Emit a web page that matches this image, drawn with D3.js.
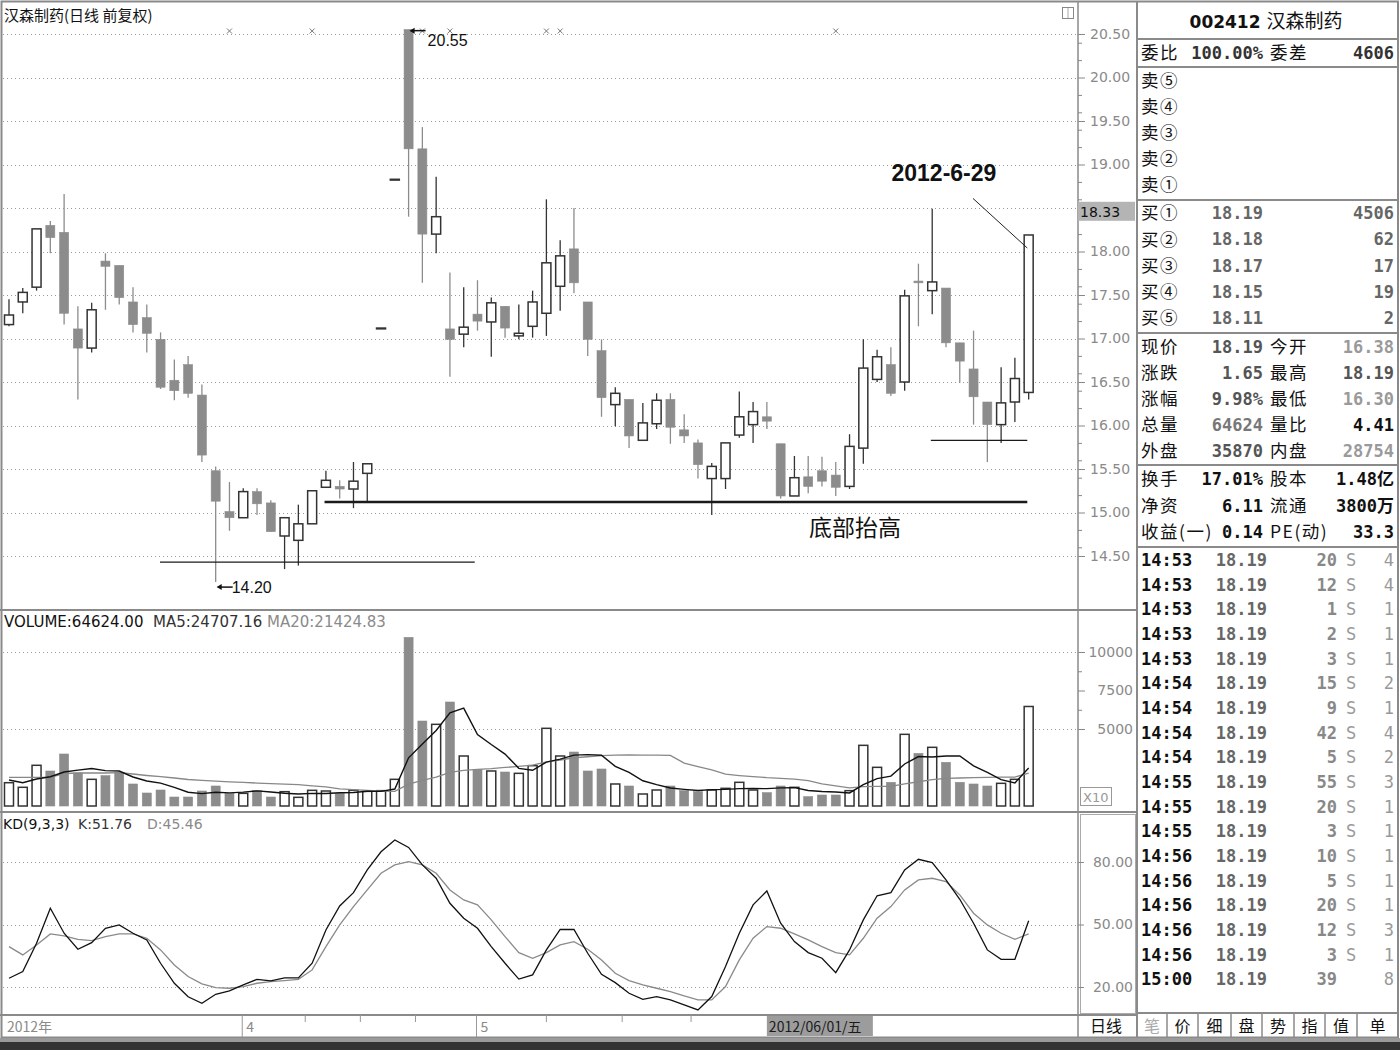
<!DOCTYPE html>
<html>
<head>
<meta charset="utf-8">
<script src="https://cdn.jsdelivr.net/npm/d3@7/dist/d3.min.js"></script>
<style>
html,body{margin:0;padding:0;background:#fff;}
svg{display:block;}
</style>
</head>
<body>
<svg id="chart" width="1400" height="1050"></svg>
<script>
// ---------------- DATA ----------------
const opens  = [17.16,17.42,17.59,18.30,18.22,17.11,16.89,17.89,17.84,17.42,
                17.24,16.99,16.52,16.70,16.35,15.48,15.01,14.94,15.24,15.11,
                14.73,14.68,14.87,15.29,15.30,15.27,15.45,17.12,18.83,20.55,
                19.18,18.20,17.11,17.05,17.28,17.19,17.37,17.03,17.14,17.29,
                17.60,18.03,17.42,16.86,16.24,16.30,15.83,16.02,16.30,15.95,
                15.80,15.39,15.39,15.89,16.01,16.10,15.79,15.19,15.41,15.48,
                15.43,15.30,15.74,16.53,16.70,16.50,17.66,17.55,17.58,16.95,
                16.65,16.27,16.01,16.27,16.38];
const highs  = [17.45,17.58,18.26,18.35,18.66,17.37,17.41,17.98,17.84,17.59,
                17.39,17.07,16.76,16.80,16.47,15.53,15.35,15.28,15.28,15.14,
                14.94,15.09,15.25,15.48,15.37,15.58,15.56,17.12,18.83,20.55,
                19.43,18.86,17.76,17.59,17.67,17.47,17.37,17.39,17.55,18.60,
                18.13,18.50,17.42,16.99,16.44,16.30,16.26,16.37,16.37,16.13,
                15.84,15.57,15.80,16.39,16.27,16.27,15.79,15.65,15.65,15.64,
                15.58,15.90,16.99,16.87,16.90,17.56,17.86,18.49,17.58,16.95,
                17.09,16.27,16.67,16.78,18.19];
const lows   = [17.14,17.29,17.55,17.98,17.16,16.30,16.84,17.33,17.39,17.07,
                16.84,16.42,16.29,16.32,15.58,14.20,14.79,14.94,14.97,14.78,
                14.35,14.39,14.87,15.29,15.16,15.05,15.12,17.12,18.83,18.40,
                17.64,17.98,16.56,16.90,17.09,16.79,17.01,16.99,17.01,17.03,
                17.32,17.52,16.80,16.10,15.99,15.74,15.83,15.96,15.79,15.80,
                15.39,14.97,15.27,15.86,15.80,15.96,15.16,15.19,15.22,15.30,
                15.19,15.27,15.56,16.50,16.34,16.40,17.14,17.28,16.90,16.49,
                16.01,15.58,15.80,16.04,16.30];
const closes = [17.27,17.53,18.26,18.16,17.29,16.89,17.33,17.83,17.47,17.16,
                17.06,16.44,16.40,16.37,15.66,15.13,14.94,15.24,15.10,14.78,
                14.94,14.87,15.25,15.37,15.27,15.36,15.56,17.12,18.83,19.18,
                18.20,18.40,16.99,17.13,17.20,17.41,17.12,17.06,17.42,17.87,
                17.95,17.64,16.99,16.32,16.37,15.88,16.03,16.29,15.98,15.88,
                15.55,15.53,15.80,16.10,16.16,16.05,15.19,15.40,15.30,15.36,
                15.29,15.76,16.66,16.79,16.37,17.49,17.64,17.65,16.95,16.74,
                16.33,16.01,16.26,16.54,18.19];
// volume in units of 10 (axis "X10")
const volumes = [1513,1214,2643,2273,3377,2143,1732,1970,2143,1429,
                 844,1039,584,584,974,1299,822,822,996,584,
                 930,563,1017,974,822,1017,952,996,1732,10952,
                 5519,5303,6753,3247,2381,2273,2208,2121,2619,5044,
                 3247,3506,2273,2403,1429,1299,779,1039,1299,996,
                 930,1039,1147,1537,1039,866,1299,1212,606,714,
                 714,996,3939,2511,1537,4654,3420,3810,2835,1537,
                 1429,1299,1472,1732,6462];
const volMA5 = [1688,1513,1753,1903,2204,2330,2434,2299,2273,1883,
                1624,1485,1208,896,805,896,853,900,983,905,
                831,779,818,814,861,879,956,952,1104,3130,
                4030,4900,6052,6355,4641,3991,3372,2446,2320,2853,
                3048,3307,3338,3295,2572,2182,1637,1390,1169,1082,
                1009,1061,1082,1130,1138,1126,1178,1191,1004,939,
                909,848,1394,1775,1939,2727,3212,3186,3251,3251,
                2606,2182,1714,1494,2471];
const volMA20 = [1864,1864,1864,1864,2110,2143,2143,2143,2162,2078,
                 1981,1903,1818,1720,1660,1610,1570,1530,1490,1449,
                 1420,1388,1306,1241,1114,1057,1018,970,949,1425,
                 1659,1872,2181,2314,2384,2433,2502,2567,2648,2871,
                 2987,3134,3197,3268,3299,3313,3304,3306,3285,2787,
                 2557,2344,2064,1978,1911,1841,1796,1750,1649,1433,
                 1306,1181,1264,1270,1275,1443,1575,1713,1790,1817,
                 1842,1855,1871,1881,2142];
const kLine = [24.2,27.4,41.0,57.8,45.8,38.1,41.3,48.2,49.8,45.8,
               42.6,31.4,21.8,15.3,12.2,16.5,18.1,21.0,23.7,22.9,
               24.4,24.4,31.4,47.4,58.9,65.3,76.2,84.9,90.6,87.0,
               78.6,72.2,60.2,53.0,48.2,39.4,31.4,23.8,25.8,37.8,
               47.6,47.6,36.2,26.1,22.1,17.0,14.1,15.4,13.8,11.4,
               9.0,15.4,29.8,45.8,59.4,66.1,50.6,41.8,36.5,33.8,
               26.9,37.8,52.2,63.8,65.3,76.2,81.3,79.7,71.4,62.1,
               50.6,37.8,33.3,33.3,51.76];
const dLine = [39.4,35.4,40.2,45.5,44.5,42.9,42.3,44.2,45.5,45.5,
               43.4,37.8,30.6,25.0,21.5,19.7,19.4,20.2,21.8,22.6,
               23.1,23.7,28.2,39.4,49.8,58.6,66.6,74.6,78.6,80.2,
               78.6,74.6,66.6,61.8,59.4,52.2,44.2,36.5,33.8,36.5,
               40.2,41.8,38.1,33.0,26.6,23.1,21.0,19.4,17.8,15.7,
               13.8,13.8,20.2,33.0,43.4,49.0,48.2,45.5,42.6,39.4,
               36.5,35.4,43.4,53.0,58.6,66.6,71.4,72.2,70.6,64.2,
               55.4,49.8,45.8,42.9,45.46];

const priceTicks = [14.5,15,15.5,16,16.5,17,17.5,18,18.5,19,19.5,20,20.5];
const volTickLabels = [5000,7500,10000];
const volTickMinor = [6250,8750];
const volGrid = [5000,10000];
const kdTicks = [20,50,80];
const monthLabels = [{i:0,t:"2012年"},{i:17,t:"4"},{i:34,t:"5"}];
const weekTicks = [21.5,25.5,29.5,39,44.5,49.5];
const cursorIndex = 55, cursorLabel = "2012/06/01/五";
const eventMarks = [16,22,30,32,39,40,60];
const markedHigh = {i:29, v:20.55}, markedLow = {i:15, v:14.20};
const cursorPrice = 18.33;
const hiddenPriceLabel = 18.5; // covered by the cursor price box in the terminal
// annotation lines in (index, price) space
const supportLines = [
  {from:10.96, to:33.8, p:14.43, w:1.3},
  {from:22.9,  to:73.9, p:15.12, w:2.6},
  {from:66.9,  to:73.9, p:15.83, w:1.3}
];
const pointer = {a:[69.96,18.61], b:[73.9,18.04]};
const noteDate = {i:67.85, p:18.90, t:"2012-6-29"};
const noteBottom = {i:61.4, p:14.82, t:"底部抬高"};

const title = "汉森制药(日线 前复权)";
const volTitle = ["VOLUME:64624.00","MA5:24707.16","MA20:21424.83"];
const kdTitle = ["KD(9,3,3)","K:51.76","D:45.46"];

const header = ["002412","汉森制药"];
const wbRow = ["委比","100.00%","委差","4606"];
const sellLabels = ["卖⑤","卖④","卖③","卖②","卖①"];
const buyLabels = ["买①","买②","买③","买④","买⑤"];
const buyPrices = ["18.19","18.18","18.17","18.15","18.11"];
const buyVols = ["4506","62","17","19","2"];
const quoteRows = [
  ["现价","18.19","今开","16.38"],
  ["涨跌","1.65","最高","18.19"],
  ["涨幅","9.98%","最低","16.30"],
  ["总量","64624","量比","4.41"],
  ["外盘","35870","内盘","28754"]
];
const statRows = [
  ["换手","17.01%","股本","1.48亿"],
  ["净资","6.11","流通","3800万"],
  ["收益(一)","0.14","PE(动)","33.3"]
];
const tradeTimes = ["14:53","14:53","14:53","14:53","14:53","14:54","14:54","14:54","14:54",
                    "14:55","14:55","14:55","14:56","14:56","14:56","14:56","14:56","15:00"];
const tradePrices = ["18.19","18.19","18.19","18.19","18.19","18.19","18.19","18.19","18.19",
                     "18.19","18.19","18.19","18.19","18.19","18.19","18.19","18.19","18.19"];
const tradeVols = [20,12,1,2,3,15,9,42,5,55,20,3,10,5,20,12,3,39];
const tradeSides = ["S","S","S","S","S","S","S","S","S","S","S","S","S","S","S","S","S",""];
const tradeCounts = [4,4,1,1,1,2,1,4,2,3,1,1,1,1,1,3,1,8];
const tabs = ["笔","价","细","盘","势","指","值","单"];

// ---------------- STYLE / LAYOUT ----------------
const UPC = "#333", DNC = "#8c8c8c", GRID = "#999", FRAME = "#8a8a8a";
const AXF = "DejaVu Sans, sans-serif";
const CJK = "Noto Sans CJK SC, sans-serif";
const MONO = "DejaVu Sans Mono, Noto Sans CJK SC, monospace";
const X0 = 3, XA = 1078, XR = 1137;
const SLOTS = 78;

const svg = d3.select("#chart");
svg.append("rect").attr("width",1400).attr("height",1050).attr("fill","#fff");

const xBand = d3.scaleBand().domain(d3.range(SLOTS)).range([2.1, 1076.9]);
const xc = i => xBand(i) + xBand.bandwidth()/2;
const xi = d3.scaleLinear().domain([0, SLOTS-1]).range([xc(0), xc(SLOTS-1)]);
const yP = d3.scaleLinear().domain([14.5, 20.5]).range([556, 34]);
const yV = d3.scaleLinear().domain([0, 10000]).range([806, 652]);
const yK = d3.scaleLinear().domain([20, 80]).range([987, 862]);

const N = opens.length;
const bars = d3.range(N).map(i => {
  const o = opens[i], c = closes[i];
  const up = c > o || (c === o && (i === 0 || c >= closes[i-1]));
  return {i, o, h:highs[i], l:lows[i], c, up, v:volumes[i]};
});

// ---------------- GRIDS ----------------
const grid = svg.append("g").attr("stroke", GRID).attr("stroke-dasharray","1,3").attr("stroke-width",1);
grid.selectAll("line.pg").data(priceTicks).join("line")
  .attr("x1",X0).attr("x2",XA).attr("y1",d=>Math.round(yP(d))+0.5).attr("y2",d=>Math.round(yP(d))+0.5);
grid.selectAll("line.vg").data(volGrid).join("line")
  .attr("x1",X0).attr("x2",XA).attr("y1",d=>Math.round(yV(d))+0.5).attr("y2",d=>Math.round(yV(d))+0.5);
grid.selectAll("line.kg").data(kdTicks).join("line")
  .attr("x1",X0).attr("x2",XA).attr("y1",d=>Math.round(yK(d))+0.5).attr("y2",d=>Math.round(yK(d))+0.5);

// ---------------- FRAME ----------------
const frame = svg.append("g").attr("stroke",FRAME);
frame.append("rect").attr("x",1.5).attr("y",1.5).attr("width",1396.5).attr("height",1036)
  .attr("fill","none").attr("stroke-width",2);
[610, 812, 1015].forEach(yy => frame.append("line").attr("x1",0).attr("x2",XR).attr("y1",yy).attr("y2",yy).attr("stroke-width",2));
frame.append("line").attr("x1",XA).attr("x2",XA).attr("y1",2).attr("y2",1037).attr("stroke-width",1.5);
frame.append("line").attr("x1",XR).attr("x2",XR).attr("y1",2).attr("y2",1037).attr("stroke-width",2);
svg.append("rect").attr("x",0).attr("y",1038).attr("width",1400).attr("height",4).attr("fill","#9a9a9a");
svg.append("rect").attr("x",0).attr("y",1042).attr("width",1400).attr("height",8).attr("fill","#333");

// small icon top right of price panel
svg.append("rect").attr("x",1062.5).attr("y",7.5).attr("width",11).attr("height",11).attr("fill","#fff").attr("stroke","#888");
svg.append("line").attr("x1",1068).attr("x2",1068).attr("y1",8).attr("y2",18).attr("stroke","#aaa");

// ---------------- TITLES ----------------
svg.append("text").attr("x",4).attr("y",21).attr("font-family",CJK).attr("font-size",15).attr("fill","#111").text(title);
const vt = svg.append("text").attr("y",627).attr("font-family",AXF).attr("font-size",15);
vt.append("tspan").attr("x",4).attr("fill","#111").text(volTitle[0]);
vt.append("tspan").attr("x",153).attr("fill","#333").text(volTitle[1]);
vt.append("tspan").attr("x",267).attr("fill","#8a8a8a").text(volTitle[2]);
const kt = svg.append("text").attr("y",829).attr("font-family",AXF).attr("font-size",14);
kt.append("tspan").attr("x",3).attr("fill","#111").text(kdTitle[0]);
kt.append("tspan").attr("x",78).attr("fill","#333").text(kdTitle[1]);
kt.append("tspan").attr("x",147).attr("fill","#8a8a8a").text(kdTitle[2]);

// ---------------- PRICE AXIS ----------------
const fmt2 = d3.format(".2f");
const pAxis = d3.axisRight(yP).tickValues(priceTicks)
  .tickFormat(d => d === hiddenPriceLabel ? "" : fmt2(d)).tickSize(7).tickPadding(5).tickSizeOuter(0);
const pa = svg.append("g").attr("transform",`translate(${XA},0)`).call(pAxis);
pa.select(".domain").remove();
pa.selectAll("line").attr("stroke","#888");
pa.selectAll("text").attr("font-family",AXF).attr("font-size",14).attr("fill","#8a8a8a");
const pMinor = d3.axisRight(yP).tickValues(yP.ticks(24).filter(t => !priceTicks.includes(t))).tickSize(4).tickFormat("");
const pm = svg.append("g").attr("transform",`translate(${XA},0)`).call(pMinor);
pm.select(".domain").remove(); pm.selectAll("line").attr("stroke","#888");
// cursor price box (sits where the 18.50 label would be, as in the terminal)
const boxTop = yP(cursorPrice) - 21;
svg.append("rect").attr("x",XA).attr("y",boxTop).attr("width",XR-XA-2).attr("height",19).attr("fill","#b4b4b4");
svg.append("text").attr("x",XA+2).attr("y",boxTop+15).attr("font-family",AXF).attr("font-size",14).attr("fill","#111").text(cursorPrice.toFixed(2));

// ---------------- VOLUME AXIS ----------------
const vAxis = d3.axisRight(yV).tickValues(volTickLabels).tickSize(7).tickFormat(d3.format("d")).tickSizeOuter(0);
const va = svg.append("g").attr("transform",`translate(${XA},0)`).call(vAxis);
va.select(".domain").remove();
va.selectAll("line").attr("stroke","#888");
va.selectAll("text").attr("x",55).attr("text-anchor","end").attr("font-family",AXF).attr("font-size",14).attr("fill","#8a8a8a");
const vMinor = d3.axisRight(yV).tickValues(volTickMinor).tickSize(4).tickFormat("");
const vm = svg.append("g").attr("transform",`translate(${XA},0)`).call(vMinor);
vm.select(".domain").remove(); vm.selectAll("line").attr("stroke","#888");
svg.append("rect").attr("x",1080.5).attr("y",787.5).attr("width",31).attr("height",18).attr("fill","#fff").attr("stroke","#999");
svg.append("text").attr("x",1083).attr("y",802).attr("font-family",AXF).attr("font-size",13).attr("fill","#999").text("X10");

// ---------------- KD AXIS ----------------
svg.append("rect").attr("x",1080.5).attr("y",814.5).attr("width",55).attr("height",199).attr("fill","none").attr("stroke","#aaa");
const kAxis = d3.axisRight(yK).tickValues(kdTicks).tickSize(6).tickFormat(fmt2).tickSizeOuter(0);
const ka = svg.append("g").attr("transform",`translate(${XA},0)`).call(kAxis);
ka.select(".domain").remove();
ka.selectAll("line").attr("stroke","#888");
ka.selectAll("text").attr("x",55).attr("text-anchor","end").attr("font-family",AXF).attr("font-size",14).attr("fill","#8a8a8a");

// ---------------- CANDLES ----------------
const cg = svg.append("g");
cg.selectAll("line.wick").data(bars).join("line")
  .attr("x1",d=>xc(d.i)).attr("x2",d=>xc(d.i))
  .attr("y1",d=>yP(d.h)).attr("y2",d=>yP(d.l))
  .attr("stroke",d=>d.up?UPC:DNC).attr("stroke-width",1.3);
cg.selectAll("rect.body").data(bars).join("rect")
  .attr("x",d=>xc(d.i)-4.5).attr("width",9)
  .attr("y",d=>yP(Math.max(d.o,d.c)))
  .attr("height",d=>Math.max(0.8, Math.abs(yP(d.o)-yP(d.c))))
  .attr("fill",d=>d.up?"#fff":DNC)
  .attr("stroke",d=>d.up?UPC:DNC)
  .attr("stroke-width",d=>d.up?1.5:0.6);

// event markers
const em = svg.append("g").attr("stroke","#777").attr("stroke-width",1);
em.selectAll("path").data(eventMarks).join("path")
  .attr("d",i=>{const cx=xc(i), cy=31; return `M${cx-2.5},${cy-2.5}L${cx+2.5},${cy+2.5}M${cx-2.5},${cy+2.5}L${cx+2.5},${cy-2.5}`;});

// extreme labels
function arrow(x, y) {
  svg.append("line").attr("x1",x+1).attr("x2",x+16).attr("y1",y).attr("y2",y).attr("stroke","#111").attr("stroke-width",1.5);
  svg.append("path").attr("d",`M${x},${y}L${x+5},${y-3}L${x+5},${y+3}Z`).attr("fill","#111");
}
arrow(xc(markedHigh.i)+1, yP(markedHigh.v)+1);
svg.append("text").attr("x",xc(markedHigh.i)+19).attr("y",yP(markedHigh.v)+16)
  .attr("font-family","Liberation Sans, Arial, sans-serif").attr("font-size",16).attr("fill","#111").text(markedHigh.v.toFixed(2));
arrow(xc(markedLow.i)+1, yP(markedLow.v)+5);
svg.append("text").attr("x",xc(markedLow.i)+16).attr("y",yP(markedLow.v)+11)
  .attr("font-family","Liberation Sans, Arial, sans-serif").attr("font-size",16).attr("fill","#111").text(markedLow.v.toFixed(2));

// annotation lines
svg.append("g").selectAll("line").data(supportLines).join("line")
  .attr("x1",d=>xi(d.from)).attr("x2",d=>xi(d.to))
  .attr("y1",d=>yP(d.p)).attr("y2",d=>yP(d.p))
  .attr("stroke","#1a1a1a").attr("stroke-width",d=>d.w);
svg.append("line").attr("x1",xi(pointer.a[0])).attr("y1",yP(pointer.a[1]))
  .attr("x2",xi(pointer.b[0])).attr("y2",yP(pointer.b[1])).attr("stroke","#222").attr("stroke-width",1);
svg.append("text").attr("x",xi(noteDate.i)).attr("y",yP(noteDate.p)).attr("dy","0.35em")
  .attr("text-anchor","middle").attr("font-family","Liberation Sans, Arial, sans-serif")
  .attr("font-weight","bold").attr("font-size",23).attr("fill","#111").text(noteDate.t);
svg.append("text").attr("x",xi(noteBottom.i)).attr("y",yP(noteBottom.p)).attr("dy","0.35em")
  .attr("text-anchor","middle").attr("font-family",CJK).attr("font-size",23).attr("fill","#111").text(noteBottom.t);

// ---------------- VOLUME ----------------
const vg = svg.append("g");
vg.selectAll("rect").data(bars).join("rect")
  .attr("x",d=>xc(d.i)-4.5).attr("width",9)
  .attr("y",d=>yV(d.v)).attr("height",d=>yV(0)-yV(d.v))
  .attr("fill",d=>d.up?"#fff":DNC)
  .attr("stroke",d=>d.up?UPC:DNC).attr("stroke-width",d=>d.up?1.5:0.6);
const lineV = d3.line().x((d,i)=>xc(i)).y(d=>yV(d));
svg.append("path").datum(volMA20).attr("d",lineV).attr("fill","none").attr("stroke","#888").attr("stroke-width",1.3);
svg.append("path").datum(volMA5).attr("d",lineV).attr("fill","none").attr("stroke","#111").attr("stroke-width",1.4);

// ---------------- KD ----------------
const lineK = d3.line().x((d,i)=>xc(i)).y(d=>yK(d));
svg.append("path").datum(dLine).attr("d",lineK).attr("fill","none").attr("stroke","#8a8a8a").attr("stroke-width",1.3);
svg.append("path").datum(kLine).attr("d",lineK).attr("fill","none").attr("stroke","#111").attr("stroke-width",1.3);

// ---------------- DATE AXIS ----------------
const dg = svg.append("g");
monthLabels.forEach(m => {
  if (m.i > 0) dg.append("line").attr("x1",xc(m.i)-1).attr("x2",xc(m.i)-1).attr("y1",1015).attr("y2",1037).attr("stroke","#999");
  dg.append("text").attr("x", m.i===0 ? 7 : xc(m.i)+3).attr("y",1032)
    .attr("font-family",CJK).attr("font-size",14).attr("fill","#8a8a8a").text(m.t);
});
dg.selectAll("line.wk").data(weekTicks).join("line")
  .attr("x1",d=>xi(d)).attr("x2",d=>xi(d)).attr("y1",1015).attr("y2",1022).attr("stroke","#999");
dg.append("rect").attr("x",xc(cursorIndex)).attr("y",1016).attr("width",106).attr("height",20).attr("fill","#9c9c9c");
dg.append("text").attr("x",xc(cursorIndex)+2).attr("y",1032).attr("font-family",CJK).attr("font-size",14).attr("fill","#1a1a1a").text(cursorLabel);
dg.append("text").attr("x",1090).attr("y",1032).attr("font-family",CJK).attr("font-size",16).attr("fill","#111").text("日线");

// ---------------- RIGHT PANEL ----------------
const rp = svg.append("g");
[39, 67, 200, 333, 465, 547, 1013].forEach(yy =>
  rp.append("line").attr("x1",XR).attr("x2",1398).attr("y1",yy).attr("y2",yy).attr("stroke",FRAME).attr("stroke-width",2));
const hd = rp.append("text").attr("x",1266).attr("y",28).attr("text-anchor","middle").attr("fill","#111");
hd.append("tspan").attr("font-family","DejaVu Sans, sans-serif").attr("font-weight","bold").attr("font-size",17).text(header[0]+" ");
hd.append("tspan").attr("font-family",CJK).attr("font-size",19).text(header[1]);

function label(x, y, t) {
  rp.append("text").attr("x",x).attr("y",y).attr("dy","0.36em").attr("font-family",CJK)
    .attr("font-size",17.5).attr("letter-spacing",1.5).attr("fill","#111").text(t);
}
function num(x, y, t, color, bold) {
  rp.append("text").attr("x",x).attr("y",y).attr("dy","0.36em").attr("text-anchor","end")
    .attr("font-family",MONO).attr("font-weight",bold===false?"normal":"bold").attr("font-size",17).attr("fill",color).text(t);
}
const LX = 1141, N1 = 1263, L2 = 1270, N2 = 1394;
label(LX, 53, wbRow[0]); num(N1, 53, wbRow[1], "#333"); label(L2, 53, wbRow[2]); num(N2, 53, wbRow[3], "#333");
sellLabels.forEach((t,k) => label(LX, 81 + k*26, t));
buyLabels.forEach((t,k) => {
  const yy = 213 + k*26.2;
  label(LX, yy, t); num(N1, yy, buyPrices[k], "#666"); num(N2, yy, buyVols[k], "#666");
});
const quoteColors = [["#555","#9a9a9a"],["#555","#555"],["#555","#9a9a9a"],["#777","#111"],["#555","#9a9a9a"]];
quoteRows.forEach((r,k) => {
  const yy = 347 + k*26;
  label(LX, yy, r[0]); num(N1, yy, r[1], quoteColors[k][0]);
  label(L2, yy, r[2]); num(N2, yy, r[3], quoteColors[k][1]);
});
statRows.forEach((r,k) => {
  const yy = 479 + k*26.5;
  label(LX, yy, r[0]); num(N1, yy, r[1], "#111");
  label(L2, yy, r[2]); num(N2, yy, r[3], "#111");
});
tradeTimes.forEach((t,k) => {
  const yy = 560 + k*24.65;
  rp.append("text").attr("x",LX).attr("y",yy).attr("dy","0.36em").attr("font-family",MONO)
    .attr("font-weight","bold").attr("font-size",17).attr("fill","#111").text(t);
  num(1267, yy, tradePrices[k], "#666");
  num(1337, yy, tradeVols[k], "#888");
  rp.append("text").attr("x",1346).attr("y",yy).attr("dy","0.36em")
    .attr("font-family",MONO).attr("font-size",17).attr("fill","#999").text(tradeSides[k]);
  num(1394, yy, tradeCounts[k], "#999", false);
});
const tabEdges = [XR,1167,1198,1231,1262,1294,1325,1357,1398];
tabs.forEach((t,k) => {
  if (k>0) rp.append("line").attr("x1",tabEdges[k]).attr("x2",tabEdges[k]).attr("y1",1013).attr("y2",1037).attr("stroke",FRAME).attr("stroke-width",1.5);
  rp.append("text").attr("x",(tabEdges[k]+tabEdges[k+1])/2).attr("y",1026).attr("dy","0.35em").attr("text-anchor","middle")
    .attr("font-family",CJK).attr("font-size",16).attr("fill",k===0?"#aaa":"#111").text(t);
});
</script>
</body>
</html>
